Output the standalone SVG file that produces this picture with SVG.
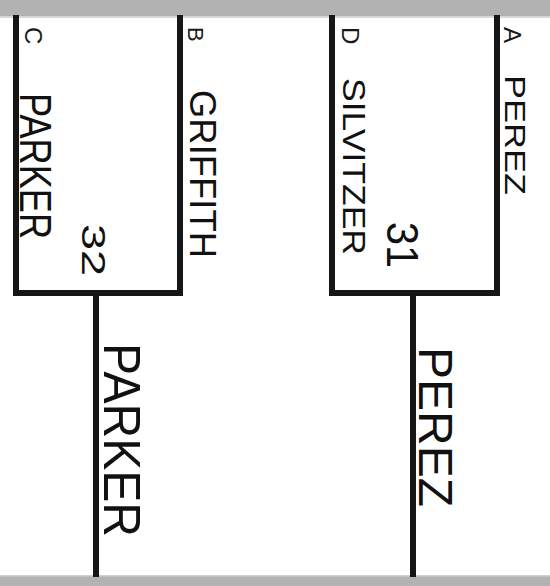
<svg xmlns="http://www.w3.org/2000/svg" width="550" height="586" viewBox="0 0 550 586">
  <style>
    .band { fill: #b2b2b2; }
    .line { fill: none; stroke: #161616; stroke-width: 6; stroke-linecap: square; }
    .stem { fill: none; stroke: #161616; stroke-width: 6; }
    .seed { font-family: "Liberation Sans", Arial, sans-serif; fill: #1a1a1a; }
    .hand { font-family: "Liberation Sans", Arial, sans-serif; fill: #111; }
  </style>
  <rect width="550" height="586" fill="#ffffff"/>
  <rect class="band" x="0" y="0" width="550" height="17"/>
  <rect x="0" y="16" width="550" height="2" fill="#d8d8d8"/>
  <rect class="band" x="0" y="576" width="550" height="10"/>
  <rect x="0" y="575" width="550" height="1.5" fill="#cfcfcf"/>

  <g id="bracket-left">
    <polyline class="line" points="16,18 16,293 180,293 180,18"/>
    <text class="seed" font-size="24" transform="translate(25,27) rotate(90)">C</text>
    <text class="seed" font-size="22" transform="translate(188,27) rotate(90)">B</text>
    <text class="hand" font-size="44" textLength="146" lengthAdjust="spacingAndGlyphs" transform="translate(20,93) rotate(90)">PARKER</text>
    <text class="hand" font-size="36" textLength="168" lengthAdjust="spacingAndGlyphs" transform="translate(190,90) rotate(90)">GRIFFITH</text>
    <text class="hand" font-size="34" textLength="52" lengthAdjust="spacingAndGlyphs" transform="translate(82,224) rotate(90)">32</text>
  </g>

  <g id="bracket-right">
    <polyline class="line" points="332,18 332,293 497,293 497,18"/>
    <text class="seed" font-size="24" transform="translate(342,27) rotate(90)">D</text>
    <text class="seed" font-size="24" transform="translate(504,27) rotate(90)">A</text>
    <text class="hand" font-size="32" textLength="177" lengthAdjust="spacingAndGlyphs" transform="translate(343,78) rotate(90)">SILVITZER</text>
    <text class="hand" font-size="30" textLength="120" lengthAdjust="spacingAndGlyphs" transform="translate(505,75) rotate(90)">PEREZ</text>
    <text class="hand" font-size="44" textLength="46" lengthAdjust="spacingAndGlyphs" transform="translate(387,222) rotate(90)">31</text>
  </g>

  <g id="connectors">
    <line class="stem" x1="96" y1="293" x2="96" y2="577"/>
    <line class="stem" x1="413" y1="293" x2="413" y2="577"/>
  </g>

  <g id="winner-left">
    <text class="hand" font-size="52" textLength="194" lengthAdjust="spacingAndGlyphs" transform="translate(104,343) rotate(90)">PARKER</text>
  </g>
  <g id="winner-right">
    <text class="hand" font-size="48" textLength="160" lengthAdjust="spacingAndGlyphs" transform="translate(419,347) rotate(90)">PEREZ</text>
  </g>
</svg>
